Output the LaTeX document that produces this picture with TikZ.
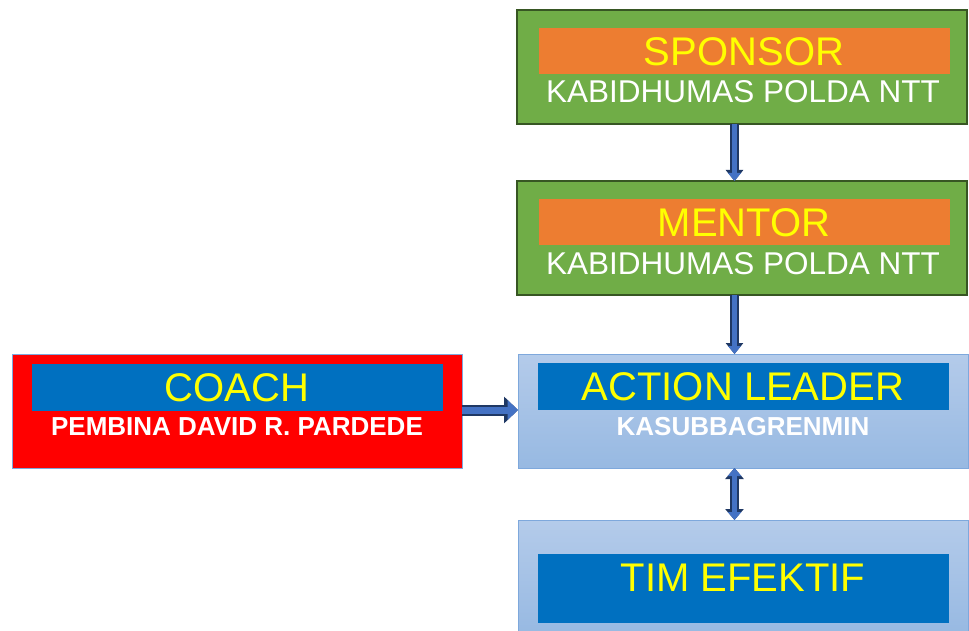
\documentclass[tikz,border=0pt]{standalone}
\usepackage{fontspec}
\setmainfont{Liberation Sans}
\usetikzlibrary{arrows.meta,positioning}
\definecolor{boxgreen}{HTML}{70AD47}
\definecolor{greenedge}{HTML}{375623}
\definecolor{barorange}{HTML}{ED7D31}
\definecolor{barblue}{HTML}{0070C0}
\definecolor{titleyellow}{HTML}{FFFF00}
\definecolor{panetop}{HTML}{B4CBEA}
\definecolor{panebottom}{HTML}{97B9E2}
\definecolor{paneedge}{HTML}{7EA8DC}
\definecolor{coachred}{HTML}{FF0000}
\definecolor{arrowblue}{HTML}{4472C4}
\definecolor{arrowedge}{HTML}{1F3864}

\begin{document}
\begin{tikzpicture}[x=1pt,y=-1pt,
    outer box/.style={minimum width=450pt,minimum height=114pt,inner sep=0pt,outer sep=0pt},
    green box/.style={outer box,fill=boxgreen,draw=greenedge,line width=2pt},
    pale box/.style={outer box,top color=panetop,bottom color=panebottom,draw=paneedge,line width=0.8pt},
    red box/.style={outer box,fill=coachred,draw=paneedge,line width=0.8pt},
    title bar/.style={minimum width=411pt,minimum height=46pt,inner sep=0pt,outer sep=0pt,fill=#1,
      text=titleyellow,font=\fontsize{40}{44}\selectfont,text height=28.6pt,text depth=0pt},
    title bar/.default=barblue,
    name line/.style={inner sep=0pt,text=white,font=\fontsize{31.5}{35}\selectfont,text height=22pt,text depth=0pt},
    bold name/.style={inner sep=0pt,text=white,font=\fontsize{26}{30}\selectfont\bfseries,text height=18.5pt,text depth=0pt},
    link/.style={draw=arrowblue,line width=4.5pt,-{Triangle[length=8pt,width=12.5pt]},
      preaction={draw=arrowedge,line width=8.5pt,-{Triangle[length=11pt,width=17pt]}}},
    link both/.style={draw=arrowblue,line width=4.5pt,{Triangle[length=8pt,width=13pt]}-{Triangle[length=8pt,width=13pt]},
      preaction={draw=arrowedge,line width=8.5pt,{Triangle[length=11pt,width=18pt]}-{Triangle[length=11pt,width=18pt]}}},
    wide link/.style={draw=arrowblue,line width=7pt,-{Triangle[length=10.5pt,width=19.5pt]},
      preaction={draw=arrowedge,line width=11pt,-{Triangle[length=14pt,width=26pt]}}}]
    \path[use as bounding box,clip] (0,0) rectangle (969,631);

    \node[green box] (sponsor) at (742,67) {};
    \node[title bar=barorange] (sponsorbar) at (744,51) {SPONSOR};
    \node[name line] (sponsorname) at (743,92) {KABIDHUMAS POLDA NTT};

    \node[green box] (mentor) at (742,238) {};
    \node[title bar=barorange] (mentorbar) at (744,222) {MENTOR};
    \node[name line] (mentorname) at (743,263) {KABIDHUMAS POLDA NTT};

    \node[pale box] (action) at (743,411) {};
    \node[title bar,minimum height=47pt] (actionbar) at (743,386.5) {ACTION LEADER};
    \node[bold name] (actionname) at (743,426) {KASUBBAGRENMIN};

    \node[red box] (coach) at (237,411) {};
    \node[title bar,minimum height=47pt] (coachbar) at (237,387) {COACH};
    \node[bold name] (coachname) at (237,426) {PEMBINA DAVID R. PARDEDE};

    \node[pale box] (tim) at (743,577) {};
    \node[title bar,minimum height=69pt,text depth=23pt] (timbar) at (743,588.5) {TIM EFEKTIF};

    \draw[link] ([xshift=-7.5pt]sponsor.south) -- ([xshift=-7.5pt]mentor.north);
    \draw[link] ([xshift=-7.5pt]mentor.south) -- ([xshift=-8.5pt]action.north);
    \draw[wide link] ([yshift=1pt]coach.east) -- ([yshift=1pt]action.west);
    \draw[link both] ([xshift=-8.5pt]action.south) -- ([xshift=-8.5pt]tim.north);
\end{tikzpicture}
\end{document}
